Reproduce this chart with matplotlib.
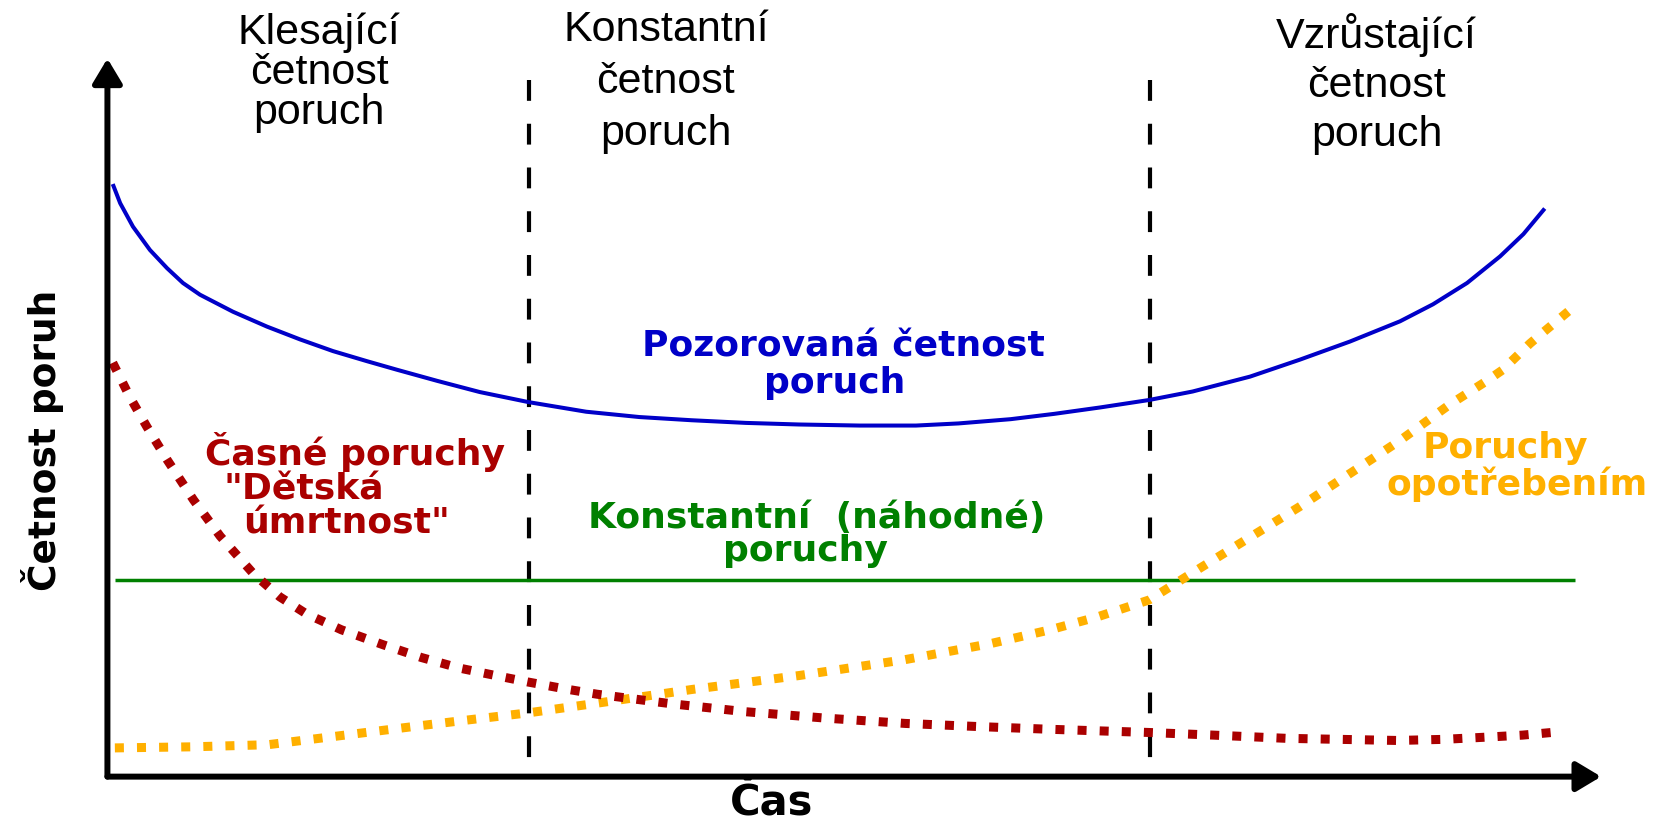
import matplotlib.pyplot as plt

# time axis in arbitrary units, failure rate in arbitrary units
blue_t = [0.5, 1.2, 2.4, 4.0, 5.6, 7.1, 8.7, 11.8, 15.0, 18.1, 21.2, 24.4, 27.2, 31.0,
          35.0, 39.6, 45.0, 50.0, 54.9, 60.0, 65.0, 70.7, 76.0, 80.0, 84.9, 89.0, 93.3,
          97.9, 102.0, 107.4, 112.1, 116.8, 121.5, 124.6, 127.8, 130.9, 133.1, 135.1]
blue_r = [55.7, 53.9, 51.7, 49.5, 47.8, 46.4, 45.3, 43.7, 42.3, 41.1, 40.0, 39.05, 38.25, 37.2,
          36.15, 35.2, 34.3, 33.8, 33.5, 33.25, 33.1, 33.0, 33.0, 33.2, 33.6, 34.1, 34.7,
          35.4, 36.2, 37.6, 39.2, 40.9, 42.8, 44.4, 46.4, 48.9, 51.0, 53.4]

red_t = [0.5, 2.1, 3.7, 5.6, 8.1, 10.6, 13.7, 16.2, 18.7, 22.0, 25.9, 29.5, 33.1, 36.5,
         39.5, 43.0, 46.0, 53.0, 60.0, 67.5, 75.0, 82.0, 88.6, 97.9, 104.0, 110.8,
         116.0, 121.2, 125.5, 129.4, 133.0, 136.3]
red_r = [38.9, 35.7, 32.9, 29.8, 26.0, 22.6, 19.1, 16.9, 15.3, 13.8, 12.4, 11.2, 10.2, 9.5,
         8.9, 8.25, 7.75, 6.85, 6.1, 5.5, 5.0, 4.7, 4.45, 4.15, 3.9, 3.6,
         3.5, 3.4, 3.5, 3.7, 3.9, 4.2]

orange_t = [0.7, 7.9, 15.1, 22.3, 29.5, 34.5, 39.6, 46.0, 55.0, 65.0, 75.0, 83.0, 88.6,
            93.0, 97.9, 102.7, 107.4, 112.1, 116.8, 121.5, 126.2, 129.5, 131.1, 133.7, 135.0, 138.0]
orange_r = [2.7, 2.8, 3.0, 3.9, 4.8, 5.4, 6.0, 6.9, 8.2, 9.5, 11.0, 12.5, 13.8,
            15.0, 16.6, 19.6, 22.5, 25.4, 28.5, 31.6, 35.0, 37.1, 38.2, 40.7, 41.8, 44.3]

green_t = [0.7, 137.9]
green_r = [18.5, 18.5]

phase_bounds = [39.6, 98.0]
phase_top = 65.5

BLUE = "#0000c8"
RED = "#aa0000"
ORANGE = "#ffb000"
GREEN = "#008000"

fig = plt.figure(figsize=(16.68, 8.22), dpi=100)
ax = fig.add_axes([0.0644, 0.0552, 0.8955, 0.8736])
ax.set_xlim(0, 140.4)
ax.set_ylim(0, 67.5)
ax.axis("off")

# axes with arrow heads
arrow = dict(arrowstyle="-|>,head_length=0.75,head_width=0.45", lw=4.3,
             color="black", shrinkA=0, shrinkB=0, mutation_scale=20)
ax.annotate("", xy=(0, 1), xytext=(0, 0), xycoords="axes fraction",
            arrowprops=arrow, annotation_clip=False)
ax.annotate("", xy=(1, 0), xytext=(0, 0), xycoords="axes fraction",
            arrowprops=arrow, annotation_clip=False)

# phase boundaries
for xb in phase_bounds:
    ax.plot([xb, xb], [phase_top, 0], color="black", lw=3,
            dashes=(5.0, 5.5), dash_capstyle="butt")

ax.plot(green_t, green_r, color=GREEN, lw=2.5, solid_capstyle="butt")
ax.plot(orange_t, orange_r, color=ORANGE, lw=6.5, dashes=(1.0, 1.45),
        dash_capstyle="butt", clip_on=False)
ax.plot(red_t, red_r, color=RED, lw=6.5, dashes=(1.0, 1.45),
        dash_capstyle="butt", clip_on=False)
ax.plot(blue_t, blue_r, color=BLUE, lw=2.9, solid_joinstyle="round",
        solid_capstyle="butt")


def label(x, y, s, **kw):
    # positions given in pixels of the 1568x773 reference
    kw.setdefault("ha", "center")
    kw.setdefault("va", "center")
    fig.text(x / 1568, 1 - y / 773, s, multialignment="center", **kw)


title_kw = dict(family="Liberation Sans", fontsize=31, color="black")
label(300, 68, "Klesající\nčetnost\nporuch", linespacing=1.0, **title_kw)
label(626, 77, "Konstantní\nčetnost\nporuch", linespacing=1.38, **title_kw)
label(1294, 79, "Vzrůstající\nčetnost\nporuch", linespacing=1.3, **title_kw)

bold = dict(family="DejaVu Sans", fontweight="bold", fontsize=26)
label(793, 326, "Pozorovaná četnost", color=BLUE, **bold)
label(785, 360, "poruch", color=BLUE, **bold)
label(334, 425, "Časné poruchy", color=RED, **bold)
label(286, 460, "\"Dětská", color=RED, **bold)
label(326, 492, "úmrtnost\"", color=RED, **bold)
label(768, 487, "Konstantní  (náhodné)", color=GREEN, **bold)
label(757, 518, "poruchy", color=GREEN, **bold)
label(1415, 421, "Poruchy", color=ORANGE, **bold)
label(1426, 455, "opotřebením", color=ORANGE, **bold)

label(725, 755, "Čas", family="DejaVu Sans", fontweight="bold", fontsize=30, color="black")
label(40, 414, "Četnost poruh", family="DejaVu Sans", fontweight="bold", fontsize=27,
      color="black", rotation=90)

fig.savefig("out.png", dpi=100)
